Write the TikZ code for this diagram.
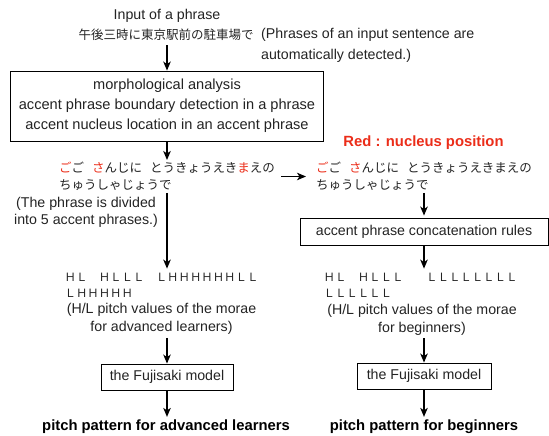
\documentclass[tikz,border=0pt]{standalone}
\usepackage{fontspec}
\setmainfont{Liberation Sans}
\newfontfamily\jp{Noto Sans CJK JP}
\usetikzlibrary{arrows.meta}
\definecolor{nucred}{RGB}{235,45,25}
\definecolor{txtgray}{RGB}{35,35,35}
\begin{document}
\begin{tikzpicture}[x=1pt,y=-1pt,
  txt/.style={font=\fontsize{14.2}{20}\selectfont, inner sep=0pt, align=center, text=txtgray},
  btxt/.style={font=\fontsize{14.8}{20}\selectfont\bfseries, inner sep=0pt, align=center},
  jptxt/.style={font=\jp\fontsize{12.5}{17}\selectfont, inner sep=0pt, align=left, text=txtgray},
  hltxt/.style={font=\jp\fontsize{11.4}{16}\selectfont, inner sep=0pt, align=left, text=txtgray},
  box/.style={draw, line width=0.9pt, inner sep=0pt, align=center},
  arr/.style={-{Stealth[length=9pt,width=7.5pt,inset=2.5pt]}, line width=1.3pt}]
\useasboundingbox (0,0) rectangle (549,436);

% left column
\node[txt] (in) at (167,16) {Input of a phrase};
\node[jptxt] (jp1) at (166,35) {午後三時に東京駅前の駐車場で};
\node[txt, align=left, font=\fontsize{14.2}{21}\selectfont, anchor=west] (note1) at (261,45.5)
  {(Phrases of an input sentence are\\automatically detected.)};
\node[box, minimum width=313pt, minimum height=70pt, font=\fontsize{14.6}{20}\selectfont, text=txtgray] (box1) at (167,106)
  {morphological analysis\\accent phrase boundary detection in a phrase\\accent nucleus location in an accent phrase};
\node[jptxt] (kanaL) at (167,176.5)
  {{\color{nucred}ご}ご\hspace{8pt}{\color{nucred}さ}んじに\hspace{8pt}とうきょうえき{\color{nucred}ま}えの\\ちゅうしゃじょうで};
\node[txt, font=\fontsize{14.2}{17.5}\selectfont] (note2) at (86,212.5)
  {(The phrase is divided\\into 5 accent phrases.)};
\node[hltxt] (hlL) at (161.5,285)
  {ＨＬ　ＨＬＬＬ　ＬＨＨＨＨＨＨＬＬ\\ＬＨＨＨＨＨ};
\node[txt, font=\fontsize{14.2}{18}\selectfont] (pitchL) at (161.5,319)
  {(H/L pitch values of the morae\\for advanced learners)};
\node[box, minimum width=132pt, minimum height=26pt, font=\fontsize{14.2}{20}\selectfont, text=txtgray] (fujL) at (167,377) {the Fujisaki model};
\node[btxt] (outL) at (166,427) {pitch pattern for advanced learners};

% right column
\node[btxt, text=nucred] (redlab) at (423.5,143) {Red : nucleus position};
\node[jptxt] (kanaR) at (424,176.5)
  {{\color{nucred}ご}ご\hspace{8pt}{\color{nucred}さ}んじに\hspace{8pt}とうきょうえきまえの\\ちゅうしゃじょうで};
\node[box, minimum width=248pt, minimum height=27pt, font=\fontsize{14.2}{20}\selectfont, text=txtgray] (concat) at (424,231.5) {accent phrase concatenation rules};
\node[hltxt] (hlR) at (420.5,285)
  {ＨＬ　ＨＬＬＬ　　ＬＬＬＬＬＬＬＬ\\ＬＬＬＬＬＬ};
\node[txt, font=\fontsize{14.2}{18}\selectfont] (pitchR) at (422,319.5)
  {(H/L pitch values of the morae\\for beginners)};
\node[box, minimum width=134pt, minimum height=26pt, font=\fontsize{14.2}{20}\selectfont, text=txtgray] (fujR) at (424,376) {the Fujisaki model};
\node[btxt] (outR) at (424,427) {pitch pattern for beginners};

% connectors
\draw[arr, shorten <=4pt] (jp1.south -| box1.north) -- (box1.north);
\draw[arr, shorten >=2pt] (box1.south) -- (box1.south |- kanaL.north);
\draw[arr, shorten <=2pt, shorten >=4pt] (kanaL.south) -- (kanaL.south |- hlL.north);
\draw[arr, shorten <=3pt] (fujL.north |- pitchL.south) -- (fujL.north);
\draw[arr, shorten >=3pt] (fujL.south) -- (fujL.south |- outL.north);
\draw[arr, shorten <=6pt, shorten >=10pt] (kanaL.east) -- (kanaL.east -| kanaR.west);
\draw[arr, shorten <=2pt, shorten >=2pt] (kanaR.south) -- (kanaR.south |- concat.north);
\draw[arr, shorten >=4pt] (concat.south) -- (concat.south |- hlR.north);
\draw[arr, shorten <=3pt] (fujR.north |- pitchR.south) -- (fujR.north);
\draw[arr, shorten >=3pt] (fujR.south) -- (fujR.south |- outR.north);
\end{tikzpicture}
\end{document}
